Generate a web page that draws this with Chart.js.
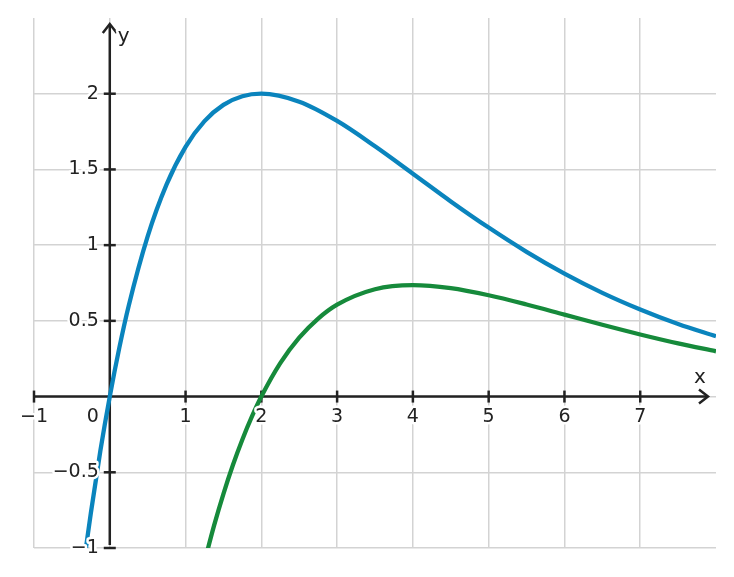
<!DOCTYPE html>
<html>
<head>
<meta charset="utf-8">
<script src="https://cdn.jsdelivr.net/npm/chart.js@4"></script>
<style>
  html, body { margin: 0; padding: 0; background: #fff; }
  #wrap { width: 734px; height: 577px; }
</style>
</head>
<body>
<div id="wrap"><canvas id="plot"></canvas></div>
<script>
// values
const blueX = [-0.32, -0.25, -0.125, 0, 0.125, 0.25, 0.5, 0.75, 1, 1.25, 1.5, 1.75, 2, 2.5, 3, 3.5, 4, 4.5, 5, 5.5, 6, 6.5, 7, 7.5, 8];
const blueY = [-1.02, -0.77, -0.36, 0, 0.32, 0.6, 1.058, 1.401, 1.649, 1.819, 1.926, 1.983, 2, 1.947, 1.82, 1.653, 1.472, 1.289, 1.116, 0.956, 0.812, 0.685, 0.575, 0.479, 0.398];
const greenX = [1.25, 1.375, 1.5, 1.625, 1.75, 1.875, 2, 2.25, 2.5, 2.75, 3, 3.5, 4, 4.5, 5, 5.5, 6, 6.5, 7, 7.5, 8];
const greenY = [-1.09, -0.854, -0.642, -0.452, -0.283, -0.133, 0, 0.221, 0.389, 0.515, 0.607, 0.709, 0.736, 0.716, 0.669, 0.608, 0.541, 0.474, 0.41, 0.351, 0.299];

const xTicks = [-1, 0, 1, 2, 3, 4, 5, 6, 7];
const xTickLabels = ['−1', '0', '1', '2', '3', '4', '5', '6', '7'];
const yTicks = [-1, -0.5, 0, 0.5, 1, 1.5, 2];
const yTickLabels = ['−1', '−0.5', '0', '0.5', '1', '1.5', '2'];

const FONT = '19px "DejaVu Sans"';
const INK = '#222';

function haloText(ctx, txt, px, py) {
    ctx.strokeText(txt, px, py);
    ctx.fillText(txt, px, py);
}

const axesPlugin = {
    id: 'axes',
    beforeDatasetsDraw(chart) {
        const { ctx, scales: { x, y } } = chart;
        const x0 = x.getPixelForValue(0);
        const y0 = y.getPixelForValue(0);
        ctx.save();
        ctx.strokeStyle = '#222';
        ctx.lineWidth = 2.5;

        // x axis + arrow
        const xEnd = x.right - 8;
        ctx.beginPath();
        ctx.moveTo(x.getPixelForValue(-1), y0);
        ctx.lineTo(xEnd, y0);
        ctx.stroke();
        ctx.beginPath();
        ctx.moveTo(xEnd - 9, y0 - 7);
        ctx.lineTo(xEnd, y0);
        ctx.lineTo(xEnd - 9, y0 + 7);
        ctx.stroke();

        // y axis + arrow
        const yEnd = y.top + 6;
        ctx.beginPath();
        ctx.moveTo(x0, y.bottom - 3);
        ctx.lineTo(x0, yEnd);
        ctx.stroke();
        ctx.beginPath();
        ctx.moveTo(x0 - 7, yEnd + 9);
        ctx.lineTo(x0, yEnd);
        ctx.lineTo(x0 + 7, yEnd + 9);
        ctx.stroke();

        // tick marks
        xTicks.forEach(v => {
            if (v === 0) return;
            const px = x.getPixelForValue(v);
            ctx.beginPath();
            ctx.moveTo(px, y0 - 6);
            ctx.lineTo(px, y0 + 6);
            ctx.stroke();
        });
        yTicks.forEach(v => {
            if (v === 0) return;
            const py = y.getPixelForValue(v);
            ctx.beginPath();
            ctx.moveTo(x0 - 6, py);
            ctx.lineTo(x0 + 6, py);
            ctx.stroke();
        });
        ctx.restore();
    },
    afterDatasetsDraw(chart) {
        const { ctx, scales: { x, y } } = chart;
        const x0 = x.getPixelForValue(0);
        const y0 = y.getPixelForValue(0);
        ctx.save();
        ctx.font = FONT;
        ctx.fillStyle = INK;
        ctx.strokeStyle = '#fff';
        ctx.lineWidth = 5;
        ctx.lineJoin = 'round';

        ctx.textAlign = 'center';
        ctx.textBaseline = 'middle';
        xTicks.forEach((v, i) => {
            const px = v === 0 ? x0 - 17 : x.getPixelForValue(v);
            haloText(ctx, xTickLabels[i], px, y0 + 20);
        });

        ctx.textAlign = 'right';
        yTicks.forEach((v, i) => {
            if (v === 0) return;
            haloText(ctx, yTickLabels[i], x0 - 11, y.getPixelForValue(v));
        });

        // axis names
        ctx.font = '20px "DejaVu Sans"';
        ctx.textAlign = 'left';
        haloText(ctx, 'y', x0 + 8, y.top + 19);
        ctx.textAlign = 'center';
        haloText(ctx, 'x', x.right - 16, y0 - 19);
        ctx.restore();
    }
};

const toPoints = (xs, ys) => xs.map((v, i) => ({ x: v, y: ys[i] }));

const gridOpts = {
    color: '#d3d3d3',
    lineWidth: 1.5,
    drawTicks: false
};

new Chart(document.getElementById('plot'), {
    type: 'line',
    data: {
        datasets: [
            {
                data: toPoints(blueX, blueY),
                borderColor: '#0a84bd',
                borderWidth: 4.3,
                pointRadius: 0,
                cubicInterpolationMode: 'monotone',
                fill: false
            },
            {
                data: toPoints(greenX, greenY),
                borderColor: '#168a3b',
                borderWidth: 4.3,
                pointRadius: 0,
                cubicInterpolationMode: 'monotone',
                fill: false
            }
        ]
    },
    options: {
        responsive: true,
        maintainAspectRatio: false,
        animation: false,
        layout: { padding: { left: 34, right: 18, top: 18, bottom: 29 } },
        plugins: { legend: { display: false }, tooltip: { enabled: false } },
        scales: {
            x: {
                type: 'linear',
                min: -1,
                max: 8,
                grid: gridOpts,
                border: { display: false },
                ticks: { display: false },
                afterBuildTicks: scale => { scale.ticks = xTicks.map(v => ({ value: v })); }
            },
            y: {
                type: 'linear',
                min: -1,
                max: 2.5,
                grid: gridOpts,
                border: { display: false },
                ticks: { display: false },
                afterBuildTicks: scale => { scale.ticks = yTicks.map(v => ({ value: v })); }
            }
        }
    },
    plugins: [axesPlugin]
});
</script>
</body>
</html>
